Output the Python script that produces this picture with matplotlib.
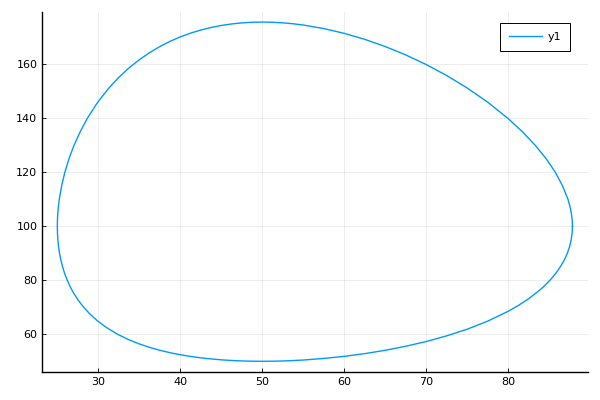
import matplotlib.pyplot as plt

# closed orbit, listed in order around the loop
# right side -> top -> left side -> bottom -> back to the right side
x = [87.83, 87.79, 87.68, 87.51, 87.28, 86.62, 85.74, 84.63, 83.29, 81.74, 79.95,
     77.5, 75.0, 72.5, 70.0, 67.5, 65.0, 62.5, 60.0, 57.5, 55.0, 53.75, 52.5, 51.25,
     50.0, 48.75, 47.5, 46.25, 45.0, 43.75, 42.5, 41.25, 40.0, 38.75, 37.5, 36.25,
     35.0, 33.75, 32.5, 31.25, 30.0, 29.72, 28.66, 27.79, 27.04, 26.42, 25.92,
     25.53, 25.24, 25.14, 25.06, 25.02, 25.0, 25.02, 25.07, 25.15, 25.27, 25.44,
     25.64, 25.9, 26.22, 26.59, 27.04, 27.58, 28.22, 28.98, 29.89, 30.99, 32.36,
     33.75, 35.0, 36.25, 37.5, 38.75, 40.0, 41.25, 42.5, 43.75, 45.0, 46.25, 47.5,
     48.75, 50.0, 51.25, 52.5, 53.75, 55.0, 57.5, 60.0, 62.5, 65.0, 67.5, 70.0,
     72.5, 75.0, 77.5, 80.0, 81.25, 82.5, 83.75, 84.26, 85.08, 85.78, 86.35, 86.83,
     87.2, 87.48, 87.67, 87.79, 87.83]
y = [100.0, 102.5, 105.0, 107.5, 110.0, 115.0, 120.0, 125.0, 130.0, 135.0, 140.0,
     145.95, 151.22, 155.83, 159.9, 163.47, 166.58, 169.25, 171.47, 173.24, 174.55,
     175.02, 175.36, 175.58, 175.65, 175.58, 175.34, 174.95, 174.39, 173.65, 172.7,
     171.55, 170.16, 168.51, 166.57, 164.32, 161.71, 158.69, 155.18, 151.07, 146.24,
     145.0, 140.0, 135.0, 130.0, 125.0, 120.0, 115.0, 110.0, 107.5, 105.0, 102.5,
     100.0, 97.5, 95.0, 92.5, 90.0, 87.5, 85.0, 82.5, 80.0, 77.5, 75.0, 72.5, 70.0,
     67.5, 65.0, 62.5, 60.0, 57.95, 56.43, 55.16, 54.08, 53.18, 52.43, 51.8, 51.28,
     50.87, 50.54, 50.3, 50.13, 50.03, 50.0, 50.03, 50.12, 50.27, 50.47, 51.05,
     51.83, 52.84, 54.08, 55.57, 57.32, 59.43, 61.9, 64.88, 68.54, 70.72, 73.2,
     76.15, 77.5, 80.0, 82.5, 85.0, 87.5, 90.0, 92.5, 95.0, 97.5, 100.0]

xticks = [30, 40, 50, 60, 70, 80]
yticks = [60, 80, 100, 120, 140, 160]

fig = plt.figure(figsize=(6, 4), dpi=100)
ax = fig.add_axes([0.0705, 0.0708, 0.91, 0.90])

ax.plot(x, y, color='#009afa', lw=1.0, label='y1')

ax.set_xlim(23.17, 89.76)
ax.set_ylim(46.15, 179.5)
ax.set_xticks(xticks)
ax.set_yticks(yticks)
ax.grid(True, color='black', alpha=0.1, lw=0.5)
ax.tick_params(direction='in', length=3, width=0.6, labelsize=8, colors='black')
for s in ['top', 'right']:
    ax.spines[s].set_visible(False)
for s in ['left', 'bottom']:
    ax.spines[s].set_linewidth(1.0)

leg = ax.legend(loc='upper right', bbox_to_anchor=(0.9665, 0.9686), borderaxespad=0,
                fontsize=8, fancybox=False, edgecolor='black', framealpha=1,
                handlelength=3.0, handletextpad=0.5, borderpad=0.8)
leg.get_frame().set_linewidth(0.7)

fig.savefig('out.png')
